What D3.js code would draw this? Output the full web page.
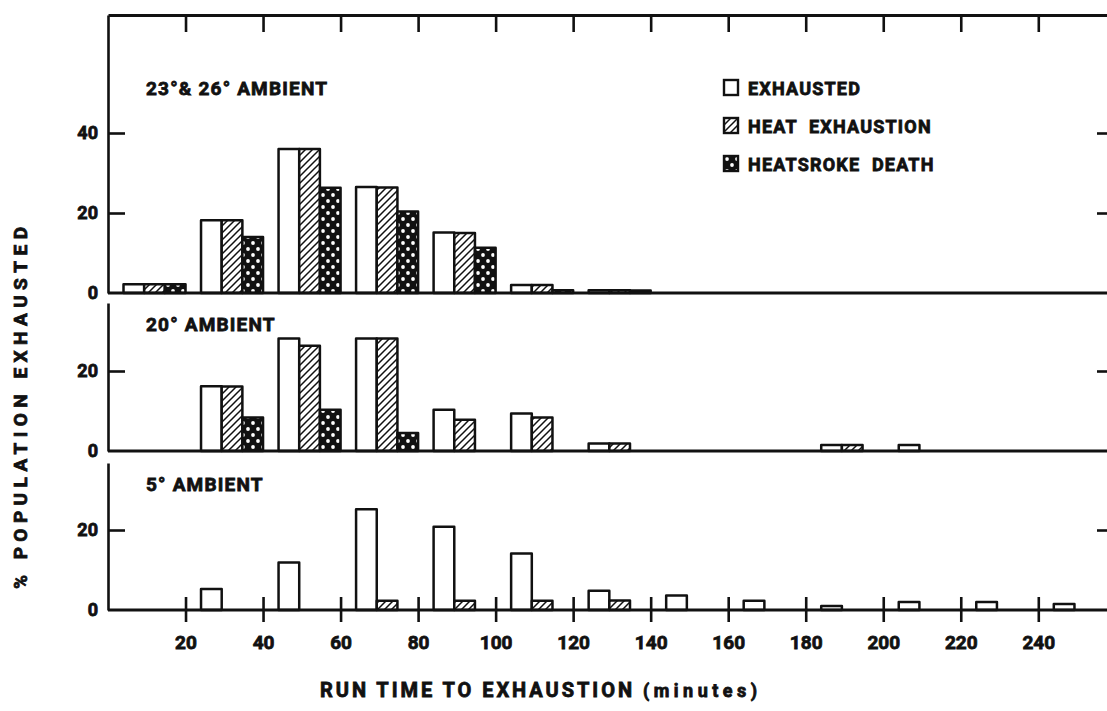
<!DOCTYPE html>
<html>
<head>
<meta charset="utf-8">
<script src="https://cdn.jsdelivr.net/npm/d3@7"></script>
<style>
  html, body { margin: 0; padding: 0; background: #fff; }
  svg { display: block; }
  text { font-family: Roboto, "DejaVu Sans", sans-serif; font-weight: 700; fill: #111; stroke: #111; stroke-width: 0.8px; }
</style>
</head>
<body>
<svg id="chart" width="1107" height="711"></svg>
<script>
// Bins of run time (minutes); each value is the bin's lower edge.
const binStarts = [0, 20, 40, 60, 80, 100, 120, 140, 160, 180, 200, 220, 240];
const seriesNames = ["EXHAUSTED", "HEAT EXHAUSTION", "HEATSROKE DEATH"];
const panelTitles = ["23\u00b0& 26\u00b0 AMBIENT", "20\u00b0 AMBIENT", "5\u00b0 AMBIENT"];
const xTickValues = [20, 40, 60, 80, 100, 120, 140, 160, 180, 200, 220, 240];

// % population exhausted, 23° & 26° ambient
const warmExhausted   = [2.2, 18.2, 36.0, 26.5, 15.1, 2.0, 0.7, 0, 0, 0, 0, 0, 0];
const warmHeatExh     = [2.2, 18.2, 36.0, 26.4, 15.0, 2.0, 0.7, 0, 0, 0, 0, 0, 0];
const warmHeatstroke  = [2.2, 14.0, 26.3, 20.4, 11.3, 0.7, 0.6, 0, 0, 0, 0, 0, 0];

// % population exhausted, 20° ambient
const midExhausted    = [0, 16.2, 28.1, 28.1, 10.3, 9.4, 1.9, 0, 0, 1.5, 1.5, 0, 0];
const midHeatExh      = [0, 16.1, 26.3, 28.1, 7.8, 8.4, 1.9, 0, 0, 1.5, 0, 0, 0];
const midHeatstroke   = [0, 8.4, 10.3, 4.5, 0, 0, 0, 0, 0, 0, 0, 0, 0];

// % population exhausted, 5° ambient
const coldExhausted   = [0, 5.25, 11.9, 25.2, 20.8, 14.1, 4.8, 3.6, 2.3, 1.0, 2.0, 2.0, 1.5];
const coldHeatExh     = [0, 0, 0, 2.3, 2.3, 2.3, 2.4, 0, 0, 0, 0, 0, 0];
const coldHeatstroke  = [0, 0, 0, 0, 0, 0, 0, 0, 0, 0, 0, 0, 0];

const panelData = [
  [warmExhausted, warmHeatExh, warmHeatstroke],
  [midExhausted, midHeatExh, midHeatstroke],
  [coldExhausted, coldHeatExh, coldHeatstroke]
];
const panelYTicks = [[0, 20, 40], [0, 20], [0, 20]];

// ---- layout ----
const svg = d3.select("#chart");
const ink = "#111";
const left = 108, right = 1110;
const x = d3.scaleLinear().domain([0, 258.5]).range([left, right]);
const pxPerUnit = 4;
const panels = [
  { top: 15,  base: 293 },
  { top: 303, base: 451 },
  { top: 463, base: 610 }
];
const barOffset = 4;          // minutes from bin edge to first bar
const barWidth = 16 / 3;      // minutes per bar

// ---- fill patterns ----
const defs = svg.append("defs");
const hatch = defs.append("pattern")
  .attr("id", "hatch").attr("patternUnits", "userSpaceOnUse")
  .attr("width", 7).attr("height", 7);
hatch.append("rect").attr("width", 7).attr("height", 7).attr("fill", "#fff");
hatch.append("path")
  .attr("d", "M-1,8 L8,-1 M-4.5,4.5 L4.5,-4.5 M2.5,11.5 L11.5,2.5")
  .attr("stroke", ink).attr("stroke-width", 1.5);

const dots = defs.append("pattern")
  .attr("id", "dots").attr("patternUnits", "userSpaceOnUse")
  .attr("width", 10).attr("height", 12);
dots.append("rect").attr("width", 10).attr("height", 12).attr("fill", ink);
dots.append("circle").attr("cx", 3).attr("cy", 3).attr("r", 1.9).attr("fill", "#fff");
dots.append("circle").attr("cx", 8).attr("cy", 9).attr("r", 1.9).attr("fill", "#fff");

const fills = ["#fff", "url(#hatch)", "url(#dots)"];

svg.append("rect").attr("width", 1107).attr("height", 711).attr("fill", "#fff");

// ---- panels ----
panels.forEach((p, pi) => {
  const yMax = (p.base - p.top) / pxPerUnit;
  const y = d3.scaleLinear().domain([0, yMax]).range([p.base, p.top]);
  const g = svg.append("g");

  // bars
  panelData[pi].forEach((vals, si) => {
    g.append("g").selectAll("rect")
      .data(binStarts.map((b, i) => ({ b, v: vals[i] })).filter(d => d.v > 0))
      .join("rect")
      .attr("x", d => x(d.b + barOffset + si * barWidth))
      .attr("width", x(barWidth) - x(0))
      .attr("y", d => y(d.v))
      .attr("height", d => y(0) - y(d.v))
      .attr("fill", fills[si])
      .attr("stroke", ink)
      .attr("stroke-width", 2.5)
      .attr("stroke-linejoin", "round");
  });

  // left axis
  const ya = g.append("g").attr("transform", `translate(${left},0)`)
    .call(d3.axisLeft(y).tickValues(panelYTicks[pi]).tickSize(-17).tickSizeOuter(0).tickPadding(10));
  ya.select(".domain").attr("stroke", ink).attr("stroke-width", 2.6);
  ya.selectAll(".tick line").attr("stroke", ink).attr("stroke-width", 2.6)
    .filter(d => d === 0).remove();
  ya.selectAll(".tick text").attr("font-size", 18).attr("fill", ink)
    .style("font-family", "Roboto, sans-serif").style("font-weight", 700);

  // right axis (ticks only)
  const ra = g.append("g").attr("transform", `translate(${right},0)`)
    .call(d3.axisRight(y).tickValues(panelYTicks[pi].filter(v => v > 0)).tickSize(-13).tickSizeOuter(0).tickFormat(""));
  ra.select(".domain").attr("stroke", ink).attr("stroke-width", 2.6);
  ra.selectAll(".tick line").attr("stroke", ink).attr("stroke-width", 2.6);

  // baseline
  g.append("line").attr("x1", left).attr("x2", right)
    .attr("y1", p.base).attr("y2", p.base)
    .attr("stroke", ink).attr("stroke-width", 2.8);

  // title
  g.append("text").attr("x", 146).attr("y", p.top + (pi === 0 ? 80 : 28))
    .attr("font-size", 19).attr("letter-spacing", 1.2)
    .text(panelTitles[pi]);
});

// top border with downward ticks
const ta = svg.append("g").attr("transform", `translate(0,${panels[0].top})`)
  .call(d3.axisTop(x).tickValues(xTickValues).tickSize(-17).tickSizeOuter(0).tickFormat(""));
ta.select(".domain").attr("stroke", ink).attr("stroke-width", 2.8);
ta.selectAll(".tick line").attr("stroke", ink).attr("stroke-width", 2.6);

// bottom axis, ticks crossing the baseline
const ba = svg.append("g").attr("transform", `translate(0,${panels[2].base})`)
  .call(d3.axisBottom(x).tickValues(xTickValues).tickSize(12).tickSizeOuter(0).tickPadding(14));
ba.select(".domain").remove();
ba.selectAll(".tick line").attr("y1", -13).attr("y2", 12)
  .attr("stroke", ink).attr("stroke-width", 2.6);
ba.selectAll(".tick text").attr("font-size", 19).attr("fill", ink)
  .style("font-family", "Roboto, sans-serif").style("font-weight", 700);

// legend
const legend = svg.append("g").attr("transform", "translate(724,80)");
seriesNames.forEach((name, i) => {
  const row = legend.append("g").attr("transform", `translate(0,${i * 38})`);
  row.append("rect").attr("x", 0).attr("y", 0).attr("width", 14).attr("height", 15)
    .attr("fill", fills[i]).attr("stroke", ink).attr("stroke-width", 2.4);
  row.append("text").attr("x", 24).attr("y", 14.5)
    .attr("font-size", 18).attr("letter-spacing", 1.2).attr("word-spacing", 6)
    .text(name);
});

// axis titles
svg.append("text")
  .attr("transform", "translate(27,408) rotate(-90)")
  .attr("text-anchor", "middle")
  .attr("font-size", 19)
  .attr("textLength", 362).attr("lengthAdjust", "spacing")
  .text("% POPULATION  EXHAUSTED");

svg.append("text").attr("x", 320).attr("y", 697)
  .attr("font-size", 20)
  .attr("textLength", 312).attr("lengthAdjust", "spacing")
  .text("RUN TIME TO EXHAUSTION");
svg.append("text").attr("x", 643).attr("y", 697)
  .attr("font-size", 18)
  .attr("textLength", 114).attr("lengthAdjust", "spacing")
  .text("(minutes)");
</script>
</body>
</html>
